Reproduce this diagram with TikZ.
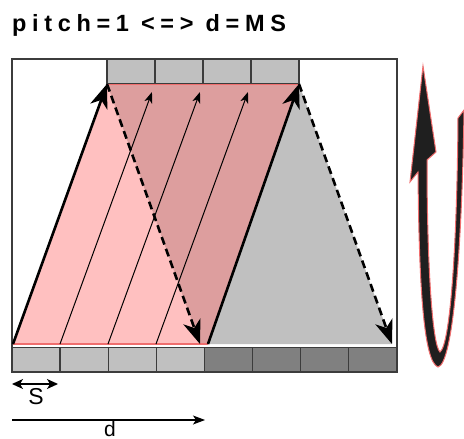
\documentclass[tikz,border=0pt]{standalone}
\usepackage{fontspec}
\setmainfont{Liberation Sans}
\usetikzlibrary{arrows.meta}
\definecolor{lowpink}{RGB}{255,192,192}
\definecolor{midpink}{RGB}{221,158,158}
\definecolor{edgepink}{RGB}{240,110,110}
\definecolor{cellgray}{RGB}{192,192,192}
\definecolor{darkcell}{RGB}{128,128,128}
\definecolor{framegray}{RGB}{60,60,60}
\newcommand{\slotbox}[2]{\draw[framegray,line width=1.4pt,fill=#1] #2 rectangle ++(48.1,24.5);}
\newcommand{\spaced}[1]{{\addfontfeature{LetterSpace=24}#1}}

\begin{document}
\begin{tikzpicture}[x=1pt,y=-1pt,
    bigarrow/.style={line width=2.6pt,-{Stealth[length=24pt,width=18pt,inset=7pt]}},
    thinarrow/.style={line width=1pt,-{Stealth[length=11pt,width=8pt,inset=3pt]}},
    guide/.style={line width=1.1pt},
    loose/.style={dash pattern=on 8pt off 4.5pt}]
		\clip (0,0) rectangle (464,439);
		\node[anchor=base west,inner sep=0pt,font=\fontsize{23.5}{27}\selectfont\bfseries] (title) at (12,31) {\spaced{pitch=1 <=> d=MS}};
		\coordinate (tl) at (107,84); \coordinate (tr) at (299,84);
		\coordinate (bl) at (13,344); \coordinate (bm) at (200,344);
		\coordinate (bn) at (208,344); \coordinate (br) at (392,344);
		\fill[lowpink] (bl) -- (tl) -- (bm) -- cycle;
		\fill[midpink] (tl) -- (tr) -- (bn) -- (bm) -- cycle;
		\fill[cellgray] (tr) -- (bn) -- (br) -- cycle;
		\draw[edgepink,line width=1.2pt] (tl) -- (tr) (bl) -- (bn);
		\draw[framegray,line width=1.3pt] (12,59) rectangle (397,372);
		\foreach \i in {0,...,3} {\slotbox{cellgray}{({107+48*\i},59)}}
		\foreach \i in {0,...,3} {\slotbox{cellgray}{({12+48.1*\i},347.5)}}
		\foreach \i in {4,...,7} {\slotbox{darkcell}{({12+48.1*\i},347.5)}}
		\foreach \i in {1,2,3} {
			\coordinate (s\i) at ({12+48*\i},344);
			\coordinate (e\i) at ({104+48*\i},92);
			\draw[thinarrow] (s\i) -- (e\i);
		}
		\draw[bigarrow] (bl) -- (tl);
		\draw[bigarrow] (bn) -- (tr);
		\draw[bigarrow,loose] (tl) -- (bm);
		\draw[bigarrow,loose] (tr) -- (br);
		\fill[black!88,draw=edgepink,line width=1pt] (423,66) -- (410,182) -- (418,172)
			.. controls (419,290) and (424,362) .. (438,367)
			.. controls (453,364) and (462,250) .. (464,110)
			-- (458,118)
			.. controls (457,250) and (450,345) .. (440,352)
			.. controls (432,345) and (427,260) .. (427,160)
			-- (436,152) -- cycle;
		\coordinate (sa) at (12,384); \coordinate (sb) at (58,384);
		\draw[guide,line width=1.6pt,{Stealth[length=11pt,width=10pt,inset=3pt]}-{Stealth[length=11pt,width=10pt,inset=3pt]}] (sa) -- (sb);
		\node[font=\fontsize{23}{26}\selectfont,inner sep=0pt] (slab) at (36,397) {S};
		\coordinate (da) at (12,420); \coordinate (db) at (205,420);
		\draw[guide,-{Stealth[length=12pt,width=9pt,inset=3pt]}] (da) -- (db);
		\node[font=\fontsize{21}{24}\selectfont,inner sep=0pt,anchor=base] (dlab) at (110,436) {d};
\end{tikzpicture}
\end{document}
